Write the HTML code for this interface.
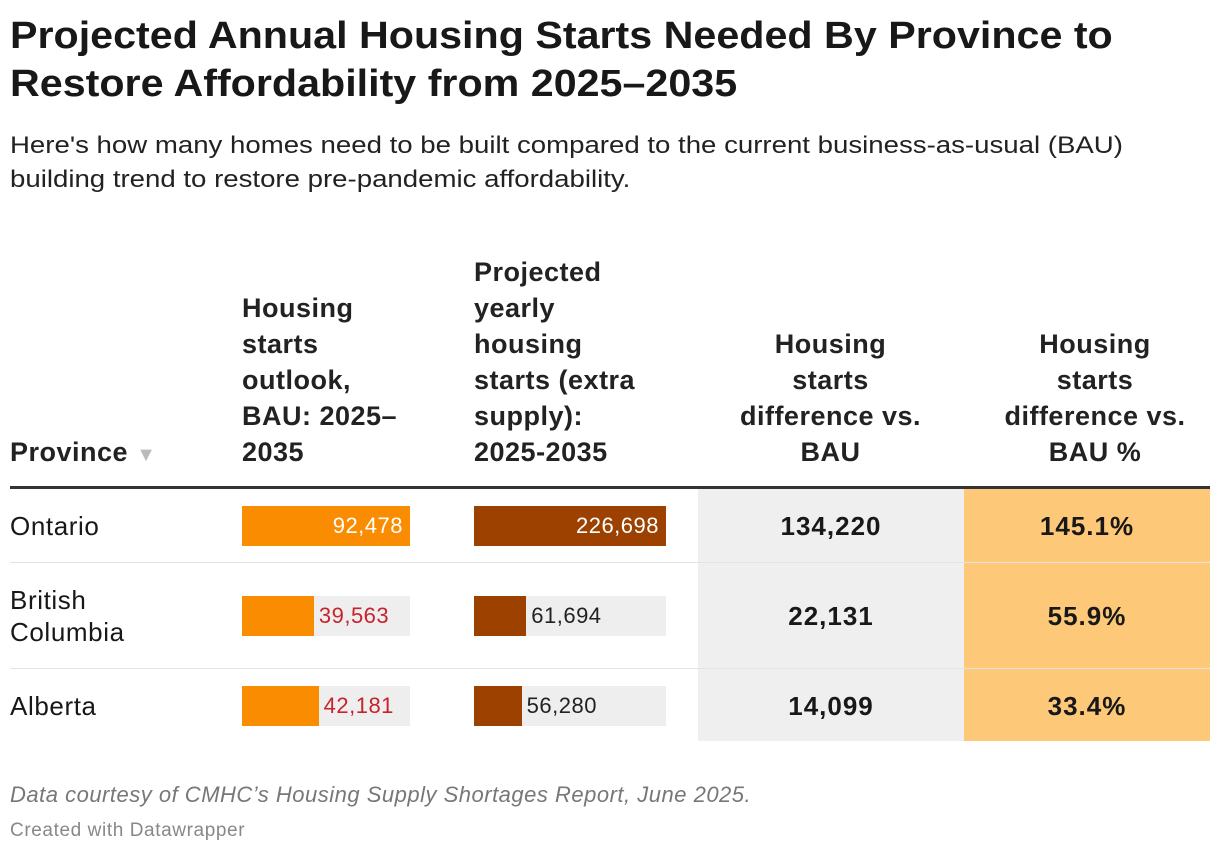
<!DOCTYPE html>
<html><head><meta charset="utf-8"><style>
body{margin:0;width:1220px;height:856px;background:#fff;font-family:"Liberation Sans",sans-serif;color:#181818;position:relative;overflow:hidden}
.a{position:absolute}
h1{position:absolute;left:10px;top:12px;margin:0;font-size:38px;line-height:48px;font-weight:bold;transform:scaleX(1.085);transform-origin:left top;white-space:nowrap}
.sub{left:10px;top:129px;font-size:24px;line-height:34px;color:#222;transform:scaleX(1.15);transform-origin:left top;white-space:nowrap}
.hd{font-size:27px;font-weight:bold;line-height:36px;color:#222;letter-spacing:0.5px}
.cell{font-size:26px;line-height:32px;letter-spacing:0.6px}
.num{font-size:26px;font-weight:bold;text-align:center;letter-spacing:1px}
.bar{position:absolute;height:40px}
.bt{position:absolute;font-size:22px;line-height:40px;letter-spacing:0.5px}
</style></head><body>
<h1>Projected Annual Housing Starts Needed By Province to<br>Restore Affordability from 2025–2035</h1>
<div class="a sub">Here's how many homes need to be built compared to the current business-as-usual (BAU)<br>building trend to restore pre-pandemic affordability.</div>

<div class="a hd" style="left:10px;top:434px">Province <span style="color:#bbb;font-size:20px">▼</span></div>
<div class="a hd" style="left:242px;top:290px">Housing<br>starts<br>outlook,<br>BAU: 2025–<br>2035</div>
<div class="a hd" style="left:474px;top:254px">Projected<br>yearly<br>housing<br>starts (extra<br>supply):<br>2025-2035</div>
<div class="a hd" style="left:698px;width:265px;top:326px;text-align:center">Housing<br>starts<br>difference vs.<br>BAU</div>
<div class="a hd" style="left:964px;width:262px;top:326px;text-align:center">Housing<br>starts<br>difference vs.<br>BAU %</div>

<div class="a" style="left:10px;top:486px;width:1200px;height:3px;background:#333"></div>
<div class="a" style="left:698px;top:489px;width:266px;height:252px;background:#efefef"></div>
<div class="a" style="left:964px;top:489px;width:246px;height:252px;background:#fdc878"></div>
<div class="a" style="left:10px;top:562px;width:1200px;height:1px;background:#e3e3e3"></div>
<div class="a" style="left:10px;top:668px;width:1200px;height:1px;background:#e3e3e3"></div>

<div id="rows"></div>

<div class="a" style="left:10px;top:782px;font-size:22px;font-style:italic;color:#777;letter-spacing:0.5px">Data courtesy of CMHC’s Housing Supply Shortages Report, June 2025.</div>
<div class="a" style="left:10px;top:820px;font-size:19px;color:#888;letter-spacing:0.6px">Created with Datawrapper</div>

<script>
const provinces=["Ontario","British<br>Columbia","Alberta"];
const bau=[92478,39563,42181];
const extra=[226698,61694,56280];
const diff=[134220,22131,14099];
const pct=["145.1%","55.9%","33.4%"];
const rowCenters=[526,616,706];
const root=document.getElementById('rows');
const fmt=v=>v.toLocaleString('en-US');
function addBar(x,w,max,v,color,y,labelRed){
  const bg=document.createElement('div');bg.className='bar';
  
  
  bg.style.cssText=`left:${x}px;top:${y-20}px;width:${w}px;background:#eeeeee`;root.appendChild(bg);
  const bw=w*v/Math.max(...max);
  const b=document.createElement('div');b.className='bar';
  
  
  b.style.cssText=`left:${x}px;top:${y-20}px;width:${bw}px;background:${color}`;root.appendChild(b);
  const t=document.createElement('div');t.className='bt';t.textContent=fmt(v);
  
  
  if(bw>w*0.6){t.style.cssText=`left:${x}px;width:${bw-7}px;text-align:right;top:${y-20}px;color:#fff`;}
  else{t.style.cssText=`left:${x+bw+5}px;top:${y-20}px;color:${labelRed?'#c8232c':'#222'}`;}
  root.appendChild(t);
}
provinces.forEach((p,i)=>{
  const y=rowCenters[i];
  const n=document.createElement('div');n.className='a cell';n.innerHTML=p;
  
  
  const lines=p.split('<br>').length;n.style.cssText=`left:10px;top:${y-16*lines}px`;root.appendChild(n);
  addBar(242,168,bau,bau[i],'#f98c00',y,true);
  addBar(474,192,extra,extra[i],'#9c4100',y,false);
  const d=document.createElement('div');d.className='a num';d.textContent=fmt(diff[i]);
  
  
  d.style.cssText=`left:698px;width:266px;top:${y-15}px;line-height:30px`;root.appendChild(d);
  const q=document.createElement('div');q.className='a num';q.textContent=pct[i];
  
  
  q.style.cssText=`left:964px;width:246px;top:${y-15}px;line-height:30px`;root.appendChild(q);
});
</script>
</body></html>
